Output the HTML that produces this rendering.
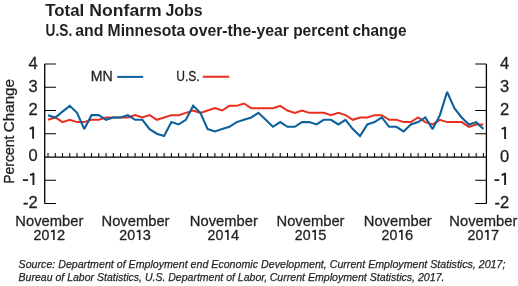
<!DOCTYPE html>
<html><head><meta charset="utf-8"><style>
html,body{margin:0;padding:0;background:#fff;width:518px;height:286px;overflow:hidden}
svg{display:block;font-family:"Liberation Sans",sans-serif;will-change:transform}
text{fill:#231f20}
text.r{stroke:#231f20;stroke-width:0.3px}
text.s{stroke:#231f20;stroke-width:0.25px}
</style></head><body>
<svg width="518" height="286" viewBox="0 0 518 286">
<text x="45.20" y="15.9" font-weight="bold" font-size="16.9" textLength="39.00" lengthAdjust="spacingAndGlyphs">Total</text>
<text x="89.30" y="15.9" font-weight="bold" font-size="16.9" textLength="72.40" lengthAdjust="spacingAndGlyphs">Nonfarm</text>
<text x="165.40" y="15.9" font-weight="bold" font-size="16.9" textLength="37.20" lengthAdjust="spacingAndGlyphs">Jobs</text>
<text x="45.60" y="36.1" font-weight="bold" font-size="16.1" textLength="26.60" lengthAdjust="spacingAndGlyphs">U.S.</text>
<text x="75.20" y="36.1" font-weight="bold" font-size="16.1" textLength="28.30" lengthAdjust="spacingAndGlyphs">and</text>
<text x="107.60" y="36.1" font-weight="bold" font-size="16.1" textLength="77.60" lengthAdjust="spacingAndGlyphs">Minnesota</text>
<text x="189.00" y="36.1" font-weight="bold" font-size="16.1" textLength="100.00" lengthAdjust="spacingAndGlyphs">over-the-year</text>
<text x="293.20" y="36.1" font-weight="bold" font-size="16.1" textLength="55.80" lengthAdjust="spacingAndGlyphs">percent</text>
<text x="352.50" y="36.1" font-weight="bold" font-size="16.1" textLength="54.00" lengthAdjust="spacingAndGlyphs">change</text>
<text class="r" transform="translate(13.5,183.8) rotate(-90)" x="0" y="0" font-size="14.6" textLength="48.3" lengthAdjust="spacingAndGlyphs">Percent</text>
<text class="r" transform="translate(13.5,132.2) rotate(-90)" x="0" y="0" font-size="14.6" textLength="53.2" lengthAdjust="spacingAndGlyphs">Change</text>
<path d="M44.7,64.00 V203.50 M486.4,64.00 V203.50" stroke="#000" stroke-width="1.3" fill="none"/>
<path d="M44.7,64.00 H55.900000000000006 M486.4,64.00 H475.2 M44.7,87.25 H55.900000000000006 M486.4,87.25 H475.2 M44.7,110.50 H55.900000000000006 M486.4,110.50 H475.2 M44.7,133.75 H55.900000000000006 M486.4,133.75 H475.2 M44.7,180.25 H55.900000000000006 M486.4,180.25 H475.2 M44.7,203.50 H55.900000000000006 M486.4,203.50 H475.2" stroke="#000" stroke-width="1.1" fill="none"/>
<path d="M44.7,157.00 H486.4" stroke="#000" stroke-width="1.25" fill="none"/>
<path d="M48.00,157.00 V153.00 M55.26,157.00 V153.00 M62.51,157.00 V153.00 M69.77,157.00 V153.00 M77.03,157.00 V153.00 M84.28,157.00 V153.00 M91.54,157.00 V153.00 M98.80,157.00 V153.00 M106.06,157.00 V153.00 M113.31,157.00 V153.00 M120.57,157.00 V153.00 M127.83,157.00 V153.00 M135.08,157.00 V153.00 M142.34,157.00 V153.00 M149.60,157.00 V153.00 M156.85,157.00 V153.00 M164.11,157.00 V153.00 M171.37,157.00 V153.00 M178.63,157.00 V153.00 M185.88,157.00 V153.00 M193.14,157.00 V153.00 M200.40,157.00 V153.00 M207.65,157.00 V153.00 M214.91,157.00 V153.00 M222.17,157.00 V153.00 M229.42,157.00 V153.00 M236.68,157.00 V153.00 M243.94,157.00 V153.00 M251.20,157.00 V153.00 M258.45,157.00 V153.00 M265.71,157.00 V153.00 M272.97,157.00 V153.00 M280.22,157.00 V153.00 M287.48,157.00 V153.00 M294.74,157.00 V153.00 M302.00,157.00 V153.00 M309.25,157.00 V153.00 M316.51,157.00 V153.00 M323.77,157.00 V153.00 M331.02,157.00 V153.00 M338.28,157.00 V153.00 M345.54,157.00 V153.00 M352.79,157.00 V153.00 M360.05,157.00 V153.00 M367.31,157.00 V153.00 M374.56,157.00 V153.00 M381.82,157.00 V153.00 M389.08,157.00 V153.00 M396.34,157.00 V153.00 M403.59,157.00 V153.00 M410.85,157.00 V153.00 M418.11,157.00 V153.00 M425.36,157.00 V153.00 M432.62,157.00 V153.00 M439.88,157.00 V153.00 M447.13,157.00 V153.00 M454.39,157.00 V153.00 M461.65,157.00 V153.00 M468.91,157.00 V153.00 M476.16,157.00 V153.00 M483.42,157.00 V153.00" stroke="#000" stroke-width="1.05" fill="none"/>
<text class="r" x="37.6" y="69.20" font-size="16.5" text-anchor="end">4</text>
<text class="r" x="500.1" y="68.90" font-size="16.5">4</text>
<text class="r" x="37.6" y="91.65" font-size="16.5" text-anchor="end">3</text>
<text class="r" x="500.1" y="92.15" font-size="16.5">3</text>
<text class="r" x="37.6" y="114.90" font-size="16.5" text-anchor="end">2</text>
<text class="r" x="500.1" y="115.40" font-size="16.5">2</text>
<text class="r" x="37.6" y="161.40" font-size="16.5" text-anchor="end">0</text>
<text class="r" x="500.1" y="161.90" font-size="16.5">0</text>
<text class="r" x="37.6" y="207.90" font-size="16.5" text-anchor="end">-2</text>
<text class="r" x="494.6" y="208.40" font-size="16.5">-2</text>
<path d="M33.10,126.70 V138.70 M29.70,128.80 L33.50,127.10 M505.10,126.90 V138.90 M501.70,129.00 L505.50,127.30 M33.45,173.00 V185.00 M30.05,175.10 L33.85,173.40 M505.10,173.00 V185.00 M501.70,175.10 L505.50,173.40 M22.8,180.15 H28.1 M494.5,180.15 H499.2" stroke="#231f20" stroke-width="1.9" fill="none" stroke-linecap="butt"/>
<polyline points="48.00,119.80 55.26,117.47 62.51,122.12 69.77,119.80 77.03,122.12 84.28,122.12 91.54,119.80 98.80,119.80 106.06,117.47 113.31,117.47 120.57,117.47 127.83,117.47 135.08,115.15 142.34,117.47 149.60,115.15 156.85,119.80 164.11,117.47 171.37,115.15 178.63,115.15 185.88,112.83 193.14,110.50 200.40,112.83 207.65,110.50 214.91,108.17 222.17,110.50 229.42,105.85 236.68,105.85 243.94,103.53 251.20,108.17 258.45,108.17 265.71,108.17 272.97,108.17 280.22,105.85 287.48,110.50 294.74,112.83 302.00,110.50 309.25,112.83 316.51,112.83 323.77,112.83 331.02,115.15 338.28,112.83 345.54,115.15 352.79,119.80 360.05,117.47 367.31,117.47 374.56,115.15 381.82,115.15 389.08,119.80 396.34,119.80 403.59,122.12 410.85,122.12 418.11,117.47 425.36,122.12 432.62,124.45 439.88,119.80 447.13,122.12 454.39,122.12 461.65,122.12 468.91,126.78 476.16,124.45 483.42,124.45" stroke="#e9301f" stroke-width="2" fill="none" stroke-linejoin="miter" stroke-miterlimit="2"/>
<polyline points="48.00,115.15 55.26,117.47 62.51,111.66 69.77,105.85 77.03,112.83 84.28,129.10 91.54,115.15 98.80,115.15 106.06,119.80 113.31,117.47 120.57,117.47 127.83,115.15 135.08,119.80 142.34,119.80 149.60,129.10 156.85,133.75 164.11,136.07 171.37,122.12 178.63,124.45 185.88,119.80 193.14,105.85 200.40,112.83 207.65,129.10 214.91,131.43 222.17,129.10 229.42,126.78 236.68,122.12 243.94,119.80 251.20,117.47 258.45,112.83 265.71,119.80 272.97,126.78 280.22,122.12 287.48,126.78 294.74,126.78 302.00,122.12 309.25,122.12 316.51,124.45 323.77,119.80 331.02,119.80 338.28,124.45 345.54,119.80 352.79,129.10 360.05,136.07 367.31,124.45 374.56,122.12 381.82,117.47 389.08,126.78 396.34,126.78 403.59,131.43 410.85,124.45 418.11,122.12 425.36,117.47 432.62,129.10 439.88,115.15 447.13,91.90 454.39,108.17 461.65,117.47 468.91,124.45 476.16,122.12 483.42,129.10" stroke="#0c619d" stroke-width="2.1" fill="none" stroke-linejoin="miter" stroke-miterlimit="2"/>
<text class="r" x="90.8" y="81" font-size="14.7" textLength="22" lengthAdjust="spacingAndGlyphs">MN</text>
<path d="M117.2,76.9 H143.2" stroke="#0c619d" stroke-width="2"/>
<text class="r" x="176.2" y="81.1" font-size="14.7" textLength="23.5" lengthAdjust="spacingAndGlyphs">U.S.</text>
<path d="M202.8,76.75 H229.2" stroke="#e9301f" stroke-width="2"/>
<text class="r" x="49.30" y="225.6" font-size="15.2" text-anchor="middle" textLength="68" lengthAdjust="spacingAndGlyphs">November</text>
<text class="r" x="33.55" y="240.0" font-size="14.6" textLength="15.8" lengthAdjust="spacingAndGlyphs">20</text>
<text class="r" x="56.95" y="240.0" font-size="14.6">2</text>
<text class="r" x="135.50" y="225.6" font-size="15.2" text-anchor="middle" textLength="68" lengthAdjust="spacingAndGlyphs">November</text>
<text class="r" x="119.30" y="240.0" font-size="14.6" textLength="15.8" lengthAdjust="spacingAndGlyphs">20</text>
<text class="r" x="142.70" y="240.0" font-size="14.6">3</text>
<text class="r" x="223.80" y="225.6" font-size="15.2" text-anchor="middle" textLength="68" lengthAdjust="spacingAndGlyphs">November</text>
<text class="r" x="207.55" y="240.0" font-size="14.6" textLength="15.8" lengthAdjust="spacingAndGlyphs">20</text>
<text class="r" x="230.95" y="240.0" font-size="14.6">4</text>
<text class="r" x="310.50" y="225.6" font-size="15.2" text-anchor="middle" textLength="68" lengthAdjust="spacingAndGlyphs">November</text>
<text class="r" x="294.80" y="240.0" font-size="14.6" textLength="15.8" lengthAdjust="spacingAndGlyphs">20</text>
<text class="r" x="318.20" y="240.0" font-size="14.6">5</text>
<text class="r" x="397.75" y="225.6" font-size="15.2" text-anchor="middle" textLength="68" lengthAdjust="spacingAndGlyphs">November</text>
<text class="r" x="381.55" y="240.0" font-size="14.6" textLength="15.8" lengthAdjust="spacingAndGlyphs">20</text>
<text class="r" x="404.95" y="240.0" font-size="14.6">6</text>
<text class="r" x="483.35" y="225.6" font-size="15.2" text-anchor="middle" textLength="68" lengthAdjust="spacingAndGlyphs">November</text>
<text class="r" x="467.55" y="240.0" font-size="14.6" textLength="15.8" lengthAdjust="spacingAndGlyphs">20</text>
<text class="r" x="490.95" y="240.0" font-size="14.6">7</text>
<path d="M53.90,229.90 V240.00 M51.00,231.72 L54.30,230.30 M139.65,229.90 V240.00 M136.75,231.72 L140.05,230.30 M227.90,229.90 V240.00 M225.00,231.72 L228.30,230.30 M315.15,229.90 V240.00 M312.25,231.72 L315.55,230.30 M401.90,229.90 V240.00 M399.00,231.72 L402.30,230.30 M487.90,229.90 V240.00 M485.00,231.72 L488.30,230.30" stroke="#231f20" stroke-width="1.6" fill="none"/>
<text class="s" x="18.60" y="267.5" font-size="11.8" font-style="italic" textLength="239.40" lengthAdjust="spacingAndGlyphs">Source: Department of Employment end Economic</text>
<text class="s" x="261.10" y="267.5" font-size="11.8" font-style="italic" textLength="244.30" lengthAdjust="spacingAndGlyphs">Development, Current Employment Statistics, 2017;</text>
<text class="s" x="18.60" y="281.3" font-size="11.8" font-style="italic" textLength="248.50" lengthAdjust="spacingAndGlyphs">Bureau of Labor Statistics, U.S. Department of Labor,</text>
<text class="s" x="269.70" y="281.3" font-size="11.8" font-style="italic" textLength="174.80" lengthAdjust="spacingAndGlyphs">Current Employment Statistics, 2017.</text>
</svg>
</body></html>
